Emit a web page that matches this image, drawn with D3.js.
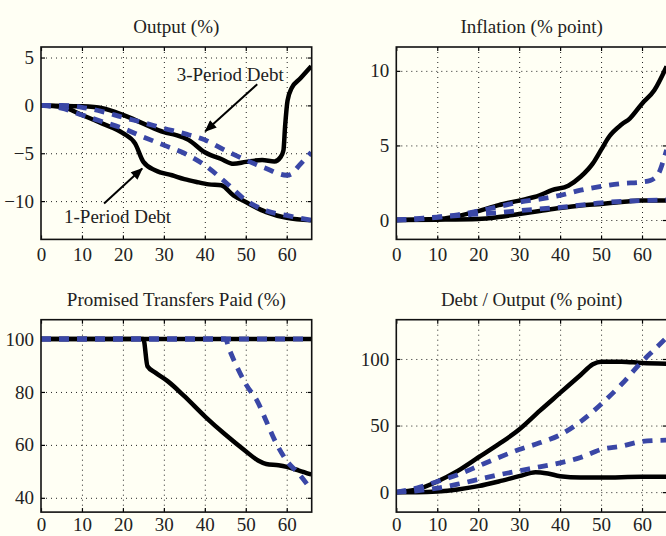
<!DOCTYPE html>
<html>
<head>
<meta charset="utf-8">
<script src="https://cdn.jsdelivr.net/npm/d3@7"></script>
<style>
  body { margin: 0; background: #fffff4; }
  svg { display: block; }
  text { font-family: "Liberation Serif", "DejaVu Serif", serif; fill: #222; }
  .grid line { stroke: #222; stroke-width: 1; stroke-dasharray: 1, 4; }
  .solid { fill: none; stroke: #000; stroke-width: 4.5; stroke-linejoin: round; }
  .dashed { fill: none; stroke: #3a47a6; stroke-width: 4.8; stroke-dasharray: 10, 8; }
</style>
</head>
<body>
<div id="chart"></div>
<script>
"use strict";

// time axis ticks (quarters)
const xTicks = [0, 10, 20, 30, 40, 50, 60];

// Output (%)
const output3Solid = [[0,0],[10,-0.1],[15,-0.3],[20,-1.0],[25,-1.9],[30,-2.8],[33,-3.1],[36,-3.6],
  [40,-4.9],[44,-5.6],[47,-6.1],[50,-5.9],[54,-5.7],[57,-5.85],[58.5,-5.4],[59.2,-4.7],[59.6,-2.2],
  [60.2,0.5],[61.2,1.8],[63.3,2.8],[66,4.1]];
const output1Solid = [[0,0],[5,-0.15],[10,-1.0],[15,-1.9],[20,-2.9],[23,-4.0],[25,-5.9],[28,-6.8],
  [32,-7.3],[35,-7.7],[38,-8.0],[41,-8.25],[44,-8.35],[47,-9.4],[50,-10.1],[55,-11.15],[60,-11.75],[66,-12.0]];
const output3Dashed = [[0,0],[5,0],[10,-0.2],[15,-0.65],[20,-1.25],[25,-1.8],[30,-2.4],[35,-2.95],
  [40,-3.6],[45,-4.7],[50,-5.7],[55,-6.6],[60,-7.3],[61,-7.2],[63,-6.3],[66,-4.9]];
const output1Dashed = [[0,0],[5,-0.3],[10,-1.0],[15,-1.7],[20,-2.4],[25,-3.3],[30,-4.15],[35,-5.0],
  [40,-6.25],[45,-8.0],[50,-9.9],[55,-11.0],[60,-11.5],[66,-12.0]];

// Inflation (% point)
const inflation1Solid = [[0,0],[10,0.07],[20,0.6],[25,1.0],[30,1.3],[35,1.65],[38,2.0],[42,2.3],
  [45,2.9],[48,3.8],[50,4.7],[52,5.6],[55,6.4],[57,6.8],[60,7.8],[63,8.7],[66,10.3]];
const inflation1Dashed = [[0,0],[5,0.1],[10,0.2],[15,0.35],[20,0.6],[25,0.9],[30,1.2],[35,1.4],
  [40,1.65],[45,2.0],[50,2.25],[55,2.45],[60,2.55],[62,2.65],[64,3.1],[65,3.8],[66,4.7]];
const inflation3Solid = [[0,0],[10,0.02],[20,0.07],[25,0.2],[30,0.4],[35,0.6],[40,0.8],[45,0.97],
  [50,1.08],[55,1.2],[60,1.3],[66,1.3]];
const inflation3Dashed = [[0,0],[5,0.05],[10,0.18],[15,0.3],[20,0.4],[25,0.5],[30,0.63],[35,0.74],
  [40,0.85],[45,1.0],[50,1.15],[55,1.25],[60,1.3],[66,1.35]];

// Promised Transfers Paid (%)
const transfers3Solid = [[0,100],[66,100]];
const transfers1Solid = [[0,100],[25,100],[26,89.7],[28,87.2],[31,84],[35,78.4],[40,70.8],[45,63.9],
  [50,57.6],[53,54.1],[55,52.8],[58,52.3],[60,51.7],[63,50.3],[66,48.8]];
const transfers1Dashed = [[0,100],[66,100]];
const transfers3Dashed = [[0,100],[45,100],[46,96],[48,89],[50,83],[53,76],[55,69],[57,62],
  [60,54],[63,49],[66,43]];

// Debt / Output (% point)
const debt1Solid = [[0,0],[5,2],[10,8],[15,16],[20,26],[25,36],[30,47],[35,61],[40,74.5],[45,88],
  [48,96],[50,98],[55,98],[60,97],[66,96.5]];
const debt3Dashed = [[0,0],[5,3],[10,8],[15,13],[20,19.5],[25,26],[30,32],[35,37],[40,43],[45,53],
  [50,66],[55,81],[60,98],[63,107],[66,116]];
const debt1Dashed = [[0,0],[5,1],[10,3],[15,6],[20,9.5],[25,13],[30,16],[35,19],[40,22],[45,26],
  [50,32],[55,34.5],[60,38],[66,39]];
const debt3Solid = [[0,0],[5,0],[10,0.5],[15,2],[20,4.5],[25,8],[30,12],[34,15],[37,14],[40,12],
  [45,11],[50,11],[60,11.5],[66,11.5]];

const panels = [
  { title: "Output (%)", left: 41, top: 47, yDomain: [-14, 6.1], yTicks: [-10, -5, 0, 5], pad: 8,
    series: [[output3Solid, "solid"], [output1Solid, "solid"], [output3Dashed, "dashed"], [output1Dashed, "dashed"]] },
  { title: "Inflation (% point)", left: 396.3, top: 47, yDomain: [-1.3, 11.6], yTicks: [0, 5, 10], pad: 8,
    series: [[inflation1Solid, "solid"], [inflation3Solid, "solid"], [inflation1Dashed, "dashed"], [inflation3Dashed, "dashed"]] },
  { title: "Promised Transfers Paid (%)", left: 41, top: 319.7, yDomain: [34.6, 107.3], yTicks: [40, 60, 80, 100], pad: 5,
    series: [[transfers3Solid, "solid"], [transfers1Solid, "solid"], [transfers1Dashed, "dashed"], [transfers3Dashed, "dashed"]] },
  { title: "Debt / Output (% point)", left: 396.3, top: 319.7, yDomain: [-15, 129.5], yTicks: [0, 50, 100], pad: 5,
    series: [[debt1Solid, "solid"], [debt3Solid, "solid"], [debt3Dashed, "dashed"], [debt1Dashed, "dashed"]] }
];

// labels with arrows on the output panel: text position, arrow tail, arrow head (data units)
const annotations = [
  { text: "3-Period Debt", at: [46.2, 2.6], from: [52.8, 2.2], to: [40.1, -2.7] },
  { text: "1-Period Debt", at: [18.7, -12.3], from: [15.4, -10.25], to: [24.7, -6.6] }
];

const W = 666, H = 536;
const pw = 270.7, ph = 192.4;
const fmt = d => d < 0 ? "\u2212" + Math.abs(d) : String(d);

const svg = d3.select("#chart").append("svg")
  .attr("width", W).attr("height", H);

svg.append("rect").attr("width", W).attr("height", H).attr("fill", "#fffff4");

svg.append("defs").append("marker")
  .attr("id", "head")
  .attr("viewBox", "0 0 12 10")
  .attr("refX", 11).attr("refY", 5)
  .attr("markerWidth", 13).attr("markerHeight", 10)
  .attr("markerUnits", "userSpaceOnUse")
  .attr("orient", "auto")
  .append("path").attr("d", "M0,0 L12,5 L0,10 Z").attr("fill", "#000");

panels.forEach(function(p, i) {
  const g = svg.append("g").attr("transform", `translate(${p.left},${p.top})`);

  const x = d3.scaleLinear().domain([0, 66.1]).range([0, pw]);
  const y = d3.scaleLinear().domain(p.yDomain).range([ph, 0]);

  g.append("clipPath").attr("id", "clip" + i)
    .append("rect").attr("width", pw).attr("height", ph);

  // dotted grid
  g.append("g").attr("class", "grid")
    .call(d3.axisBottom(x).tickValues(xTicks.filter(d => d > 0)).tickSize(ph).tickFormat(""))
    .call(s => s.select(".domain").remove());
  g.append("g").attr("class", "grid")
    .call(d3.axisRight(y).tickValues(p.yTicks).tickSize(pw).tickFormat(""))
    .call(s => s.select(".domain").remove());

  // tick labels, matlab style inward ticks on all four sides
  const xa = g.append("g")
    .attr("transform", `translate(0,${ph})`)
    .call(d3.axisBottom(x).tickValues(xTicks).tickSize(-4).tickPadding(p.pad));
  const ya = g.append("g")
    .call(d3.axisLeft(y).tickValues(p.yTicks).tickFormat(fmt).tickSize(-4).tickPadding(7));
  g.append("g")
    .call(d3.axisTop(x).tickValues(xTicks).tickSize(-4).tickFormat(""));
  g.append("g").attr("transform", `translate(${pw},0)`)
    .call(d3.axisRight(y).tickValues(p.yTicks).tickSize(-4).tickFormat(""));
  g.selectAll(".domain").remove();
  g.selectAll(".tick line").filter(function() { return !this.closest(".grid"); })
    .attr("stroke", "#000").attr("stroke-width", 1.2);
  [xa, ya].forEach(a => a.selectAll("text")
    .style("font-family", "'Liberation Serif', serif").style("font-size", "19px").attr("fill", "#222"));

  // series
  const line = d3.line()
    .x(d => x(d[0]))
    .y(d => y(d[1]))
    .curve(d3.curveMonotoneX);
  const plot = g.append("g").attr("clip-path", `url(#clip${i})`);
  p.series.forEach(function(s) {
    plot.append("path").attr("class", s[1]).attr("d", line(s[0]));
  });

  // frame
  g.append("rect").attr("width", pw).attr("height", ph)
    .attr("fill", "none").attr("stroke", "#111").attr("stroke-width", 1.6);

  g.append("text")
    .attr("x", pw / 2).attr("y", -14)
    .attr("text-anchor", "middle")
    .style("font-size", "19px")
    .text(p.title);

  if (i == 0) {
    annotations.forEach(function(a) {
      g.append("line")
        .attr("x1", x(a.from[0])).attr("y1", y(a.from[1]))
        .attr("x2", x(a.to[0])).attr("y2", y(a.to[1]))
        .attr("stroke", "#000").attr("stroke-width", 2)
        .attr("marker-end", "url(#head)");
      g.append("text")
        .attr("x", x(a.at[0])).attr("y", y(a.at[1]))
        .attr("text-anchor", "middle")
        .style("font-size", "19px")
        .text(a.text);
    });
  }
});
</script>
</body>
</html>
